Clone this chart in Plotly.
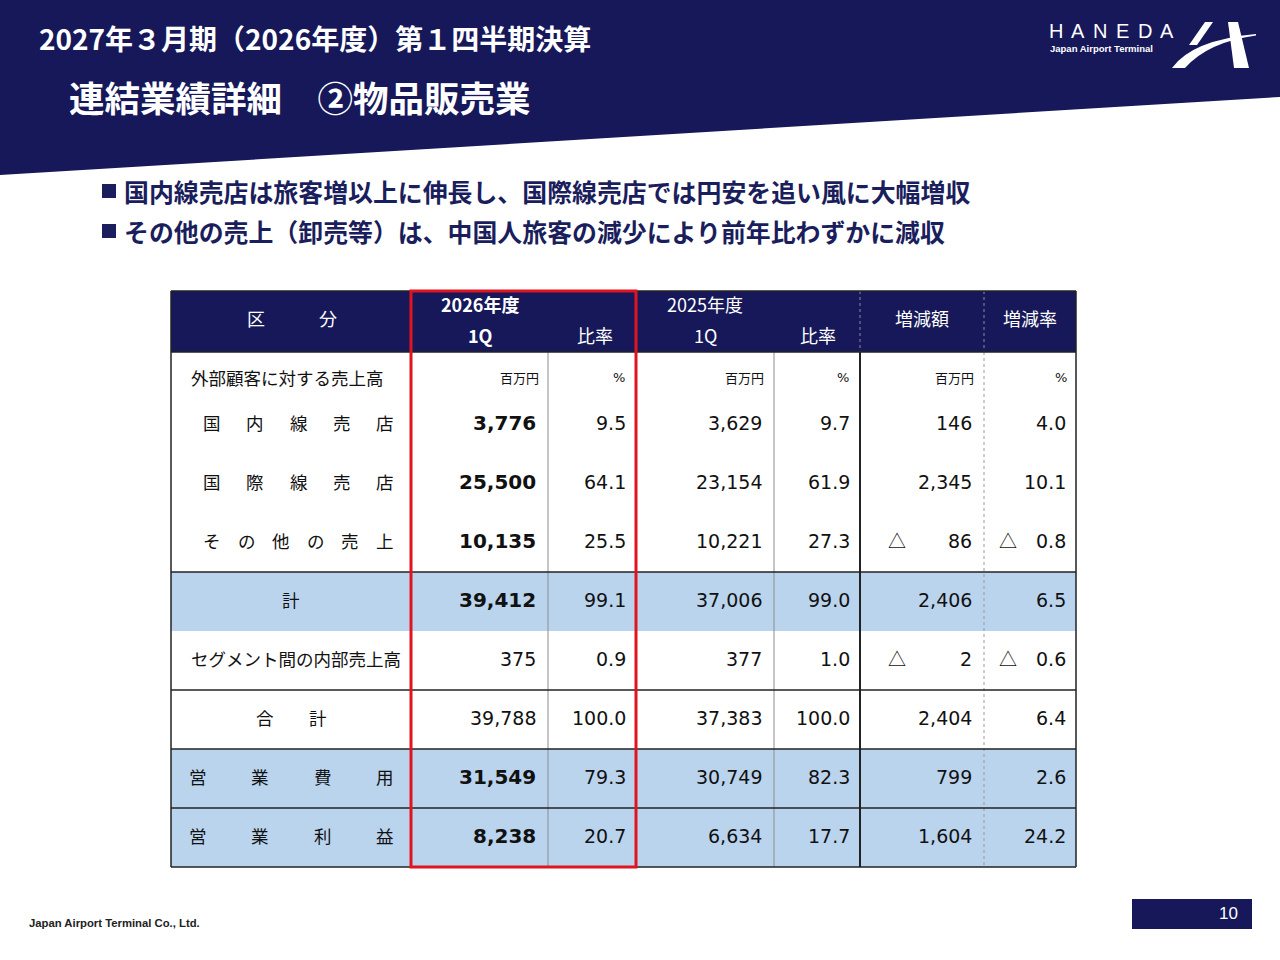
import plotly.graph_objects as go

# Slide text
title_top = "2027年３月期（2026年度）第１四半期決算"
title_main = "連結業績詳細　②物品販売業"
bullets = [
    "国内線売店は旅客増以上に伸長し、国際線売店では円安を追い風に大幅増収",
    "その他の売上（卸売等）は、中国人旅客の減少により前年比わずかに減収",
]

# Table data
row_labels = ["国内線売店", "国際線売店", "その他の売上", "計",
              "セグメント間の内部売上高", "合計", "営業費用", "営業利益"]
q1_2026 = [3776, 25500, 10135, 39412, 375, 39788, 31549, 8238]
ratio_2026 = [9.5, 64.1, 25.5, 99.1, 0.9, 100.0, 79.3, 20.7]
q1_2025 = [3629, 23154, 10221, 37006, 377, 37383, 30749, 6634]
ratio_2025 = [9.7, 61.9, 27.3, 99.0, 1.0, 100.0, 82.3, 17.7]
change_amt = [146, 2345, -86, 2406, -2, 2404, 799, 1604]
change_pct = [4.0, 10.1, -0.8, 6.5, -0.6, 6.4, 2.6, 24.2]
units = ["百万円", "%", "百万円", "%", "百万円", "%"]
bold_2026 = [True, True, True, True, False, False, True, True]
highlight = [False, False, False, True, False, False, True, True]

NAVY = "#16185a"
BLUE = "#bad4ee"
RED = "#e0141e"
JP = "Noto Sans CJK JP"
NUM = "DejaVu Sans"

col_edges = [171, 411, 548, 636, 774, 860, 984, 1076]
head_top, head_bot = 291, 352
row_y0, row_h = 422, 59
tbl_bot = row_y0 + len(row_labels) * row_h - 27

shapes = []
ann = []


def text(x, y, s, size, color="#111", bold=False, anchor="left", font=JP):
    ann.append(dict(x=x, y=y, xref="x", yref="y", showarrow=False,
                    text=f"<b>{s}</b>" if bold else s,
                    xanchor=anchor, yanchor="middle",
                    font=dict(family=font, size=size, color=color)))


def line(x0, y0, x1, y1, color="#222", width=1.5, dash="solid"):
    shapes.append(dict(type="line", x0=x0, y0=y0, x1=x1, y1=y1, xref="x", yref="y",
                       line=dict(color=color, width=width, dash=dash)))


def rect(x0, y0, x1, y1, fill, lc=None, lw=0):
    shapes.append(dict(type="rect", x0=x0, y0=y0, x1=x1, y1=y1, xref="x", yref="y",
                       fillcolor=fill, line=dict(color=lc or fill, width=lw), layer="below"))


def spread(s, x0, x1, y, size):
    n = len(s)
    for i, ch in enumerate(s):
        text(x0 + (x1 - x0) * i / (n - 1), y, ch, size, anchor="center")


# banner
shapes.append(dict(type="path", path="M 0 0 L 1280 0 L 1280 97 L 0 175 Z",
                   fillcolor=NAVY, line=dict(width=0), xref="x", yref="y", layer="below"))
text(37, 38, title_top, 28, color="white", bold=True)
text(67, 96, title_main, 35.5, color="white", bold=True)

# logo
for i, ch in enumerate("HANEDA"):
    text(1056 + i * 22.2, 31, ch, 20, color="white", font="Liberation Sans", anchor="center")
text(1048, 48, "<b>Japan Airport Terminal</b>", 9.5, color="white", font="Liberation Sans")
for p in ["M 1172 68 Q 1192 40 1256 34 L 1256 35.5 Q 1208 42 1185 68 Z",
          "M 1205 22 L 1213 22 L 1197 45 L 1189 45 Z",
          "M 1228 22 L 1238 22 L 1249 68 L 1234 68 Z"]:
    shapes.append(dict(type="path", path=p, fillcolor="white", line=dict(width=0),
                       xref="x", yref="y"))

# bullets
for i, b in enumerate(bullets):
    rect(102, 184 + i * 40, 116, 198 + i * 40, "#1b1e5c")
    text(122, 191 + i * 40, b, 24.9, color="#1b1e5c", bold=True)

# table header
rect(col_edges[0], head_top, col_edges[-1], head_bot, NAVY)
text(292, 318, "区　　　分", 18, color="white", anchor="center")
text(480, 304, "2026年度", 18, color="white", bold=True, anchor="center")
text(480, 335, "1Q", 18, color="white", bold=True, anchor="center")
text(595, 335, "比率", 18, color="white", anchor="center")
text(705, 304, "2025年度", 18, color="white", anchor="center")
text(705, 335, "1Q", 18, color="white", anchor="center")
text(818, 335, "比率", 18, color="white", anchor="center")
text(922, 318, "増減額", 18, color="white", anchor="center")
text(1030, 318, "増減率", 18, color="white", anchor="center")
line(860, head_top, 860, head_bot, color="#8a8aa8", width=1, dash="dot")
line(984, head_top, 984, head_bot, color="#8a8aa8", width=1, dash="dot")

# highlighted rows
for i, h in enumerate(highlight):
    if h:
        top = row_y0 + i * row_h - 27
        rect(col_edges[0], top, col_edges[-1], top + row_h, BLUE)

# unit row
text(189, 377, "外部顧客に対する売上高", 17.5)
unit_right = [541, 627, 766, 851, 976, 1069]
for x, u in zip(unit_right, units):
    text(x, 377, u, 13, anchor="right", font=JP if u != "%" else NUM)

# body rows
val_right = [538, 628, 764, 852, 974, 1068]
for i, lab in enumerate(row_labels):
    y = row_y0 + i * row_h
    if lab in ("国内線売店", "国際線売店", "その他の売上"):
        spread(lab, 212, 385, y, 17.5)
    elif lab in ("営業費用", "営業利益"):
        spread(lab, 198, 385, y, 17.5)
    elif lab == "計":
        text(291, y, lab, 17.5, anchor="center")
    elif lab == "合計":
        spread(lab, 265, 318, y, 17.5)
    else:
        text(189, y, lab, 17.5)
    cells = [(f"{q1_2026[i]:,}", bold_2026[i]), (f"{ratio_2026[i]:.1f}", False),
             (f"{q1_2025[i]:,}", False), (f"{ratio_2025[i]:.1f}", False),
             (f"{abs(change_amt[i]):,}", False), (f"{abs(change_pct[i]):.1f}", False)]
    for x, (s, b) in zip(val_right, cells):
        text(x, y + 1, s, 20 if b else 19, bold=b, anchor="right", font=NUM)
    if change_amt[i] < 0:
        text(897, y, "△", 18, anchor="center")
    if change_pct[i] < 0:
        text(1008, y, "△", 18, anchor="center")

# grid
line(548, head_bot, 548, tbl_bot, color="#8c8c8c", width=1)
line(774, head_bot, 774, tbl_bot, color="#8c8c8c", width=1)
line(984, head_bot, 984, tbl_bot, color="#9a9a9a", width=1, dash="dot")
line(860, head_bot, 860, tbl_bot, color="#222", width=2)
line(col_edges[0], head_top, col_edges[0], tbl_bot)
line(col_edges[-1], head_top, col_edges[-1], tbl_bot)
line(col_edges[0], head_top, col_edges[-1], head_top)
line(col_edges[0], head_bot, col_edges[-1], head_bot)
for k in [3, 5, 6, 7, 8]:
    yy = row_y0 + k * row_h - 27
    line(col_edges[0], yy, col_edges[-1], yy)
# highlight box on current year
shapes.append(dict(type="rect", x0=col_edges[1], y0=head_top, x1=col_edges[3], y1=tbl_bot,
                   xref="x", yref="y", line=dict(color=RED, width=3)))

# footer
text(27, 923, "<b>Japan Airport Terminal Co., Ltd.</b>", 11.3, color="#222", font="Liberation Sans")
rect(1132, 899, 1252, 929, NAVY)
text(1240, 913, "10", 17, color="white", anchor="right", font="Liberation Sans")

fig = go.Figure(go.Scatter(x=[0], y=[0], mode="markers", marker=dict(opacity=0),
                           hoverinfo="skip", showlegend=False))
fig.update_layout(
    width=1280, height=960, margin=dict(l=0, r=0, t=0, b=0),
    paper_bgcolor="white", plot_bgcolor="white",
    xaxis=dict(range=[0, 1280], visible=False, fixedrange=True),
    yaxis=dict(range=[960, 0], visible=False, fixedrange=True),
    shapes=shapes, annotations=ann, showlegend=False,
)
fig.write_html("out.html", config={"displayModeBar": False},
               post_script="document.body.style.margin='0';document.body.style.overflow='hidden';")
